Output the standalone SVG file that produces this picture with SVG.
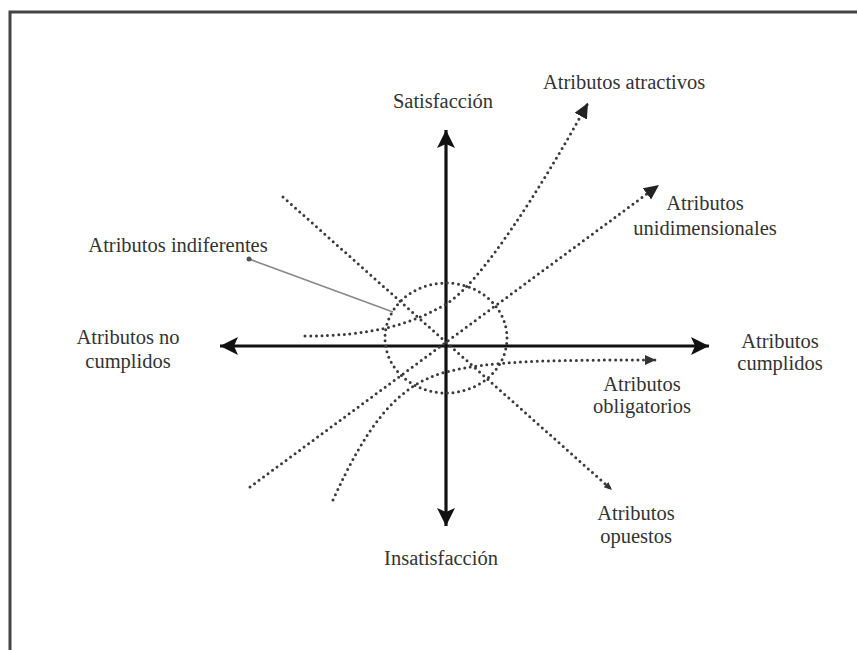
<svg xmlns="http://www.w3.org/2000/svg" width="857" height="650" viewBox="0 0 857 650">
<style>
.axis{stroke:#111;stroke-width:3.2;fill:none}
.dot{stroke:#3a3a3a;stroke-width:3;fill:none;stroke-dasharray:0 5.6;stroke-linecap:round}
.lbl{font-family:"Liberation Serif","Times New Roman",serif;font-size:20.5px;fill:#333}
</style>
<defs>
<marker id="ax" markerUnits="userSpaceOnUse" markerWidth="24" markerHeight="24" refX="18" refY="9" orient="auto">
<path d="M18,9 L0,0 L4,9 L0,18 z" fill="#111"/>
</marker>
<marker id="aL" markerUnits="userSpaceOnUse" markerWidth="20" markerHeight="20" refX="15" refY="7" orient="auto">
<path d="M15,7 L0,0 L0,14 z" fill="#222"/>
</marker>
<marker id="aM" markerUnits="userSpaceOnUse" markerWidth="16" markerHeight="16" refX="11" refY="5" orient="auto">
<path d="M11,5 L0,0 L0,10 z" fill="#333"/>
</marker>
<marker id="aS" markerUnits="userSpaceOnUse" markerWidth="12" markerHeight="12" refX="8" refY="3.5" orient="auto">
<path d="M8,3.5 L0,0 L0,7 z" fill="#333"/>
</marker>
</defs>
<rect x="0" y="0" width="857" height="650" fill="#fff"/>
<rect x="10" y="12" width="870" height="660" fill="none" stroke="#444" stroke-width="3"/>
<g id="connectors">
<line class="axis" x1="446" y1="346" x2="446" y2="130" marker-end="url(#ax)"/>
<line class="axis" x1="446" y1="346" x2="446" y2="526" marker-end="url(#ax)"/>
<line class="axis" x1="446" y1="346" x2="220" y2="346" marker-end="url(#ax)"/>
<line class="axis" x1="446" y1="346" x2="709" y2="346" marker-end="url(#ax)"/>
<ellipse class="dot" cx="446" cy="338" rx="61" ry="55"/>
<line class="dot" x1="283" y1="197" x2="612" y2="490" marker-end="url(#aS)"/>
<line class="dot" x1="250" y1="487" x2="659" y2="185" marker-end="url(#aL)"/>
<path class="dot" d="M305,336 C370,336 410,325 446,304 C480,284 540,190 588,103" marker-end="url(#aL)"/>
<path class="dot" d="M333,500 C365,430 395,385 446,372 C490,361 540,360 656,360" marker-end="url(#aM)"/>
<line x1="249" y1="259" x2="393" y2="312" stroke="#8a8a8a" stroke-width="1.8"/>
<circle cx="249" cy="259" r="2.5" fill="#555"/>
</g>
<g id="satisfaccion"><text class="lbl" x="443" y="108" text-anchor="middle">Satisfacción</text></g>
<g id="insatisfaccion"><text class="lbl" x="441" y="565" text-anchor="middle">Insatisfacción</text></g>
<g id="atractivos"><text class="lbl" x="543" y="89">Atributos atractivos</text></g>
<g id="unidimensionales"><text class="lbl" x="705" y="210" text-anchor="middle">Atributos</text><text class="lbl" x="705" y="235" text-anchor="middle">unidimensionales</text></g>
<g id="indiferentes"><text class="lbl" x="178" y="252" text-anchor="middle">Atributos indiferentes</text></g>
<g id="nocumplidos"><text class="lbl" x="128" y="344" text-anchor="middle">Atributos no</text><text class="lbl" x="128" y="368" text-anchor="middle">cumplidos</text></g>
<g id="cumplidos"><text class="lbl" x="780" y="348" text-anchor="middle">Atributos</text><text class="lbl" x="780" y="370" text-anchor="middle">cumplidos</text></g>
<g id="obligatorios"><text class="lbl" x="642" y="391" text-anchor="middle">Atributos</text><text class="lbl" x="642" y="413" text-anchor="middle">obligatorios</text></g>
<g id="opuestos"><text class="lbl" x="636" y="520" text-anchor="middle">Atributos</text><text class="lbl" x="636" y="543" text-anchor="middle">opuestos</text></g>
</svg>
